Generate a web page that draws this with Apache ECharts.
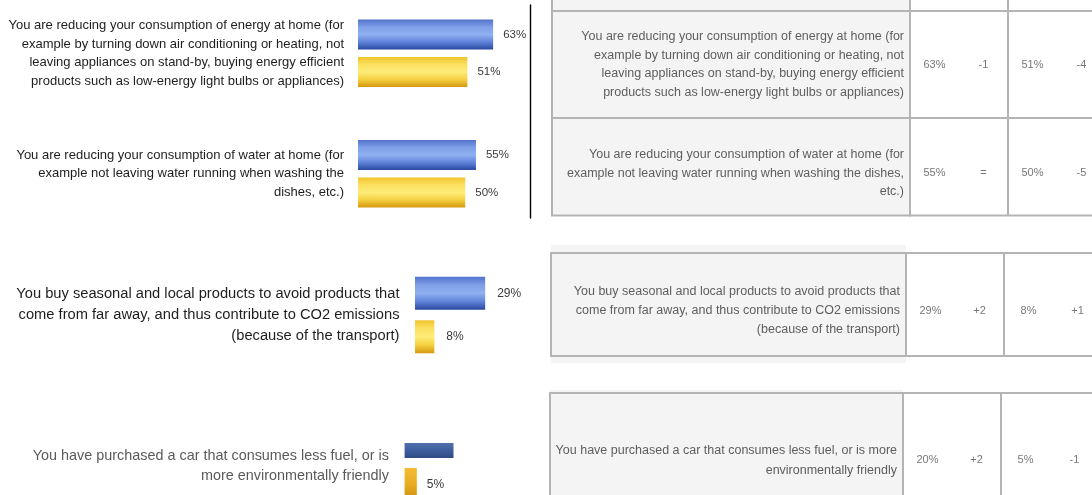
<!DOCTYPE html>
<html><head><meta charset="utf-8">
<script src="https://cdn.jsdelivr.net/npm/echarts@6/dist/echarts.min.js"></script>
<style>html,body{margin:0;padding:0;background:#fff}#c{width:1092px;height:495px}</style>
</head><body><div id="c"></div><script>
// ---- data ----
const categories = [
  "You are reducing your consumption of energy at home (for\nexample by turning down air conditioning or heating, not\nleaving appliances on stand-by, buying energy efficient\nproducts such as low-energy light bulbs or appliances)",
  "You are reducing your consumption of water at home (for\nexample not leaving water running when washing the\ndishes, etc.)",
  "You buy seasonal and local products to avoid products that\ncome from far away, and thus contribute to CO2 emissions\n(because of the transport)",
  "You have purchased a car that consumes less fuel, or is\nmore environmentally friendly"
];
const tableLabels = [
  "You are reducing your consumption of energy at home (for\nexample by turning down air conditioning or heating, not\nleaving appliances on stand-by, buying energy efficient\nproducts such as low-energy light bulbs or appliances)",
  "You are reducing your consumption of water at home (for\nexample not leaving water running when washing the dishes,\netc.)",
  "You buy seasonal and local products to avoid products that\ncome from far away, and thus contribute to CO2 emissions\n(because of the transport)",
  "You have purchased a car that consumes less fuel, or is more\nenvironmentally friendly"
];
const seriesA = [63, 55, 29, 20];   // blue bars
const seriesB = [51, 50, 8, 5];     // yellow bars
const diffA = ["-1", "=", "+2", "+2"];
const diffB = ["-4", "-5", "+1", "-1"];
const pctSuffix = "%";

// ---- layout / style ----
const FONT = "'Liberation Sans', Arial, sans-serif";
const lg = (stops) => ({type:'linear', x:0, y:0, x2:0, y2:1, colorStops: stops.map((c,i)=>({offset:i/(stops.length-1), color:c}))});
const blueDither = lg(['#5272cc','#7f9fe8','#8fb0f0','#6183da','#2a489f']);
const yellowDither = lg(['#f0c42c','#fbe060','#feec78','#f4d040','#d69810']);
const blueSolid = lg(['#5070b0','#3e5d9c','#2d4a84']);
const yellowSolid = lg(['#f4bd35','#e8aa20','#c98c0e']);

const panels = [
  {idx:[0,1], pad:false, left:358, top:-7, height:241, ppp:2.145, font:13, lh:18.6, margin:14, barW:30, gap:'25%', valFont:11.5, valDist:10, color:'#1e1e1e', cA:blueDither, cB:yellowDither, labelA:true, textMid:null},
  {idx:[2], pad:false, left:415, top:265, height:100, ppp:2.42, font:14.7, lh:21.2, margin:15.5, barW:33, gap:'32%', valFont:12, valDist:12, color:'#1e1e1e', cA:blueDither, cB:yellowDither, labelA:true, textMid:null},
  {idx:[3], pad:true, left:404.6, top:443, height:80, ppp:2.445, font:14.4, lh:20.6, margin:15.6, barW:34, gap:'29%', valFont:12, valDist:10, color:'#5a5a5a', cA:blueSolid, cB:yellowSolid, labelA:false, textMid:466}
];

const tables = [
  {rows:[0,1], left:552, col:910, tops:[11,118], heights:[107,97.5], mids:[64.5,173.2], lh:18.5,
   ghosts:[{top:-20, h:31, full:true}]},
  {rows:[2], left:551, col:906, tops:[253], heights:[103], mids:[310.9], lh:19,
   ghosts:[{top:245, h:8, full:false},{top:356, h:7, full:false}]},
  {rows:[3], left:550, col:903, tops:[393], heights:[134], mids:[460.3], lh:19.5,
   ghosts:[{top:390, h:3, full:false}]}
];
const NUM_W = 196;
const LINE = '#b4b4b4';
const FILL = '#f4f4f4';

const grid = [], xAxis = [], yAxis = [], series = [];
function addGrid(g, xa, ya){ g.outerBoundsMode = 'none'; g.containLabel = false; grid.push(g); const i = grid.length-1; xa.gridIndex=i; ya.gridIndex=i; xAxis.push(xa); yAxis.push(ya); return i; }
const hiddenVal = () => ({type:'value', show:false, min:0, max:1});

// left bar panels
panels.forEach(p => {
  const cats = p.idx.map(i => categories[i]);
  if (p.pad) cats.push('');
  const labelStyle = {interval:0, margin:p.margin, fontFamily:FONT, fontSize:p.font, lineHeight:p.lh, color:p.color, align:'right'};
  const gi = addGrid(
    {left:p.left, top:p.top, width:100*p.ppp, height:p.height},
    {type:'value', min:0, max:100, show:false},
    {type:'category', inverse:true, data:cats,
     axisLine:{show:false}, axisTick:{show:false}, splitLine:{show:false},
     axisLabel: p.textMid == null ? labelStyle : {show:false}}
  );
  if (p.textMid != null) {
    addGrid({left:p.left, top:p.top, width:100*p.ppp, height:2*(p.textMid - p.top)},
      {type:'value', min:0, max:100, show:false},
      {type:'category', data:p.idx.map(i => categories[i]),
       axisLine:{show:false}, axisTick:{show:false}, splitLine:{show:false}, axisLabel:labelStyle});
  }
  const mk = (vals, color, showLabel) => ({
    type:'bar', xAxisIndex:gi, yAxisIndex:gi, data:p.idx.map(i=>vals[i]),
    barWidth:p.barW, barGap:p.gap, itemStyle:{color}, silent:true, animation:false,
    label:{show:showLabel, position:'right', distance:p.valDist, formatter:'{c}'+pctSuffix, fontFamily:FONT, fontSize:p.valFont, color:'#3a3a3a'}
  });
  series.push(mk(seriesA, p.cA, p.labelA));
  series.push(mk(seriesB, p.cB, true));
});

// separator line next to the first panel
addGrid({left:530, top:5, width:1, height:213}, hiddenVal(),
  {type:'value', min:0, max:1, axisLine:{show:true, lineStyle:{color:'#000', width:1.4}}, axisTick:{show:false}, axisLabel:{show:false}, splitLine:{show:false}});

// tables
function tableRow(t, top, h, label, cells, mid){
  addGrid({left:t.left, top, width:t.col - t.left, height:h, show:true, backgroundColor:FILL, borderColor:LINE, borderWidth:2},
    hiddenVal(), hiddenVal());
  const gi = addGrid({left:t.col, top, width:NUM_W, height:h, show:true, backgroundColor:'#fff', borderColor:LINE, borderWidth:2},
    {type:'category', data:['c1','c2','c3','c4'], axisLine:{show:false}, axisTick:{show:false}, axisLabel:{show:false},
     splitLine:{show:true, interval:(i)=> i % 2 === 0, lineStyle:{color:LINE, width:2}}},
    {type:'category', data:['r'], show:false});
  if (label) {
    addGrid({left:t.left, top, width:t.col - t.left, height:2*(mid - top)},
      hiddenVal(),
      {type:'category', data:[label], position:'right',
       axisLine:{show:false}, axisTick:{show:false}, splitLine:{show:false},
       axisLabel:{inside:true, interval:0, margin:6, fontFamily:FONT, fontSize:12.5, lineHeight:t.lh, color:'#5e5e5e', align:'right'}});
  }
  if (cells) {
    series.push({type:'scatter', xAxisIndex:gi, yAxisIndex:gi, silent:true, animation:false,
      symbolSize:1, itemStyle:{color:'rgba(0,0,0,0)'},
      data:[[0,0],[1,0],[2,0],[3,0]],
      label:{show:true, position:'inside', offset:[0, mid - (top + h/2)], formatter:(q)=>cells[q.dataIndex], fontFamily:FONT, fontSize:11, color:'#555'}});
  }
}
tables.forEach(t => {
  t.ghosts.forEach(g => {
    if (g.full) tableRow(t, g.top, g.h, null, null, 0);
    else addGrid({left:t.left, top:g.top, width:t.col - t.left, height:g.h, show:true, backgroundColor:FILL, borderWidth:0},
      hiddenVal(), hiddenVal());
  });
  t.rows.forEach((r, k) => {
    const cells = [seriesA[r]+pctSuffix, diffA[r], seriesB[r]+pctSuffix, diffB[r]];
    tableRow(t, t.tops[k], t.heights[k], tableLabels[r], cells, t.mids[k]);
  });
});

const chart = echarts.init(document.getElementById('c'), null, {renderer:'canvas'});
chart.setOption({backgroundColor:'#fff', animation:false, grid, xAxis, yAxis, series});
</script></body></html>
